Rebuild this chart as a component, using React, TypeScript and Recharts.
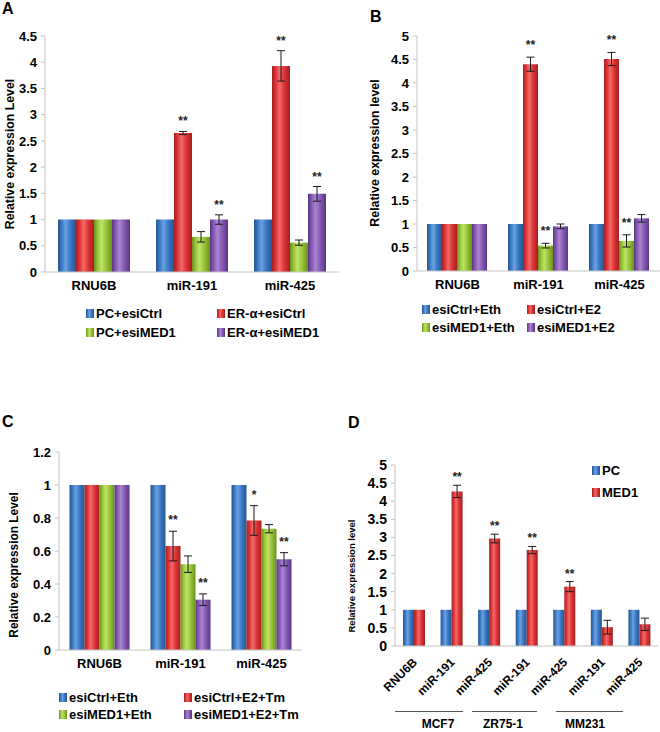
import * as React from "react";
import { BarChart, Bar, XAxis, YAxis, ErrorBar, LabelList } from "recharts";

const FONT = "'Liberation Sans', Arial, Helvetica, sans-serif";

// colour ramps: dark edge, body, highlight
const COLORS: Record<string, string[]> = {
  blue: ["#25558f", "#3a78c4", "#6aa2e0"],
  red: ["#a3201f", "#de3336", "#f26a68"],
  green: ["#6a9120", "#98c436", "#bde36a"],
  purple: ["#583581", "#8659b4", "#a985d0"],
};

// ---- Panel A ----
const catsA = ["RNU6B", "miR-191", "miR-425"];
const ticksA = [0, 0.5, 1, 1.5, 2, 2.5, 3, 3.5, 4, 4.5];
const pcCtrlA = [1, 1, 1];
const pcCtrlErrA = [0, 0, 0];
const erCtrlA = [1, 2.65, 3.93];
const erCtrlErrA = [0, 0.03, 0.29];
const pcMedA = [1, 0.67, 0.56];
const pcMedErrA = [0, 0.1, 0.05];
const erMedA = [1, 1.0, 1.49];
const erMedErrA = [0, 0.09, 0.14];
const erCtrlStarsA = ["", "**", "**"];
const erMedStarsA = ["", "**", "**"];

// ---- Panel B ----
const catsB = ["RNU6B", "miR-191", "miR-425"];
const ticksB = [0, 0.5, 1, 1.5, 2, 2.5, 3, 3.5, 4, 4.5, 5];
const ctrlEthB = [1, 1, 1];
const ctrlEthErrB = [0, 0, 0];
const ctrlE2B = [1, 4.4, 4.51];
const ctrlE2ErrB = [0, 0.15, 0.14];
const medEthB = [1, 0.54, 0.64];
const medEthErrB = [0, 0.05, 0.13];
const medE2B = [1, 0.95, 1.12];
const medE2ErrB = [0, 0.05, 0.08];
const ctrlE2StarsB = ["", "**", "**"];
const medEthStarsB = ["", "**", "**"];

// ---- Panel C ----
const catsC = ["RNU6B", "miR-191", "miR-425"];
const ticksC = [0, 0.2, 0.4, 0.6, 0.8, 1, 1.2];
const ctrlEthC = [1, 1, 1];
const ctrlEthErrC = [0, 0, 0];
const ctrlTmC = [1, 0.63, 0.785];
const ctrlTmErrC = [0, 0.09, 0.09];
const medEthC = [1, 0.52, 0.735];
const medEthErrC = [0, 0.05, 0.025];
const medTmC = [1, 0.305, 0.55];
const medTmErrC = [0, 0.035, 0.04];
const ctrlTmStarsC = ["", "**", "*"];
const medTmStarsC = ["", "**", "**"];

// ---- Panel D ----
const catsD = ["RNU6B", "miR-191", "miR-425", "miR-191", "miR-425", "miR-191", "miR-425"];
const ticksD = [0, 0.5, 1, 1.5, 2, 2.5, 3, 3.5, 4, 4.5, 5];
const pcD = [1, 1, 1, 1, 1, 1, 1];
const pcErrD = [0, 0, 0, 0, 0, 0, 0];
const med1D = [1, 4.27, 2.97, 2.65, 1.64, 0.52, 0.6];
const med1ErrD = [0, 0.17, 0.12, 0.1, 0.14, 0.19, 0.17];
const med1StarsD = ["", "**", "**", "**", "**", "", ""];
const cellLinesD = ["MCF7", "ZR75-1", "MM231"];

const none = (n: number) => Array(n).fill("");

type Series = { name: string; values: number[]; errs: number[]; stars: string[]; color: string };

const seriesA: Series[] = [
  { name: "PC+esiCtrl", values: pcCtrlA, errs: pcCtrlErrA, stars: none(3), color: "blue" },
  { name: "ER-α+esiCtrl", values: erCtrlA, errs: erCtrlErrA, stars: erCtrlStarsA, color: "red" },
  { name: "PC+esiMED1", values: pcMedA, errs: pcMedErrA, stars: none(3), color: "green" },
  { name: "ER-α+esiMED1", values: erMedA, errs: erMedErrA, stars: erMedStarsA, color: "purple" },
];
const seriesB: Series[] = [
  { name: "esiCtrl+Eth", values: ctrlEthB, errs: ctrlEthErrB, stars: none(3), color: "blue" },
  { name: "esiCtrl+E2", values: ctrlE2B, errs: ctrlE2ErrB, stars: ctrlE2StarsB, color: "red" },
  { name: "esiMED1+Eth", values: medEthB, errs: medEthErrB, stars: medEthStarsB, color: "green" },
  { name: "esiMED1+E2", values: medE2B, errs: medE2ErrB, stars: none(3), color: "purple" },
];
const seriesC: Series[] = [
  { name: "esiCtrl+Eth", values: ctrlEthC, errs: ctrlEthErrC, stars: none(3), color: "blue" },
  { name: "esiCtrl+E2+Tm", values: ctrlTmC, errs: ctrlTmErrC, stars: ctrlTmStarsC, color: "red" },
  { name: "esiMED1+Eth", values: medEthC, errs: medEthErrC, stars: none(3), color: "green" },
  { name: "esiMED1+E2+Tm", values: medTmC, errs: medTmErrC, stars: medTmStarsC, color: "purple" },
];
const seriesD: Series[] = [
  { name: "PC", values: pcD, errs: pcErrD, stars: none(7), color: "blue" },
  { name: "MED1", values: med1D, errs: med1ErrD, stars: med1StarsD, color: "red" },
];

const Gradient = ({ id, color }: { id: string; color: string }) => {
  const [dark, mid, light] = COLORS[color];
  return (
    <linearGradient id={id} x1="0" y1="0" x2="1" y2="0">
      <stop offset="0%" stopColor={dark} />
      <stop offset="20%" stopColor={mid} />
      <stop offset="42%" stopColor={light} />
      <stop offset="68%" stopColor={mid} />
      <stop offset="100%" stopColor={dark} />
    </linearGradient>
  );
};

// "**" marks sit a little above the error bar cap
const starContent = (s: Series, lift: number) => (p: any) => {
  const i = p.index;
  const txt = s.stars[i];
  if (!txt || p.height == null) return null;
  const perUnit = p.height / s.values[i];
  const top = p.y - s.errs[i] * perUnit;
  return (
    <text
      x={p.x + p.width / 2}
      y={top - lift}
      textAnchor="middle"
      fontSize={12}
      fontWeight="bold"
      fontFamily={FONT}
      fill="#222"
    >
      {txt}
    </text>
  );
};

const RotTick = (p: any) => (
  <g transform={`translate(${p.x + 4},${p.y + 8})`}>
    <text
      x={0}
      y={0}
      textAnchor="end"
      transform="rotate(-45)"
      fontSize={12}
      fontWeight="bold"
      fontFamily={FONT}
      fill="#000"
    >
      {p.payload.value}
    </text>
  </g>
);

interface PanelProps {
  id: string;
  cats: string[];
  series: Series[];
  ticks: number[];
  width: number;
  height: number;
  margin: { top: number; right: number; left: number; bottom: number };
  yWidth: number;
  catGap: number;
  starLift: number;
  xHeight: number;
  rotate?: boolean;
  yFont?: number;
}

function Panel(props: PanelProps) {
  const { id, cats, series, ticks } = props;
  const rows = cats.map((c, i) => {
    const r: any = { cat: c };
    series.forEach((s, k) => {
      r["v" + k] = s.values[i];
      r["e" + k] = s.errs[i];
    });
    return r;
  });
  const domainMax = ticks[ticks.length - 1];
  return (
    <BarChart
      width={props.width}
      height={props.height}
      data={rows}
      margin={props.margin}
      barCategoryGap={props.catGap}
      barGap={0}
    >
      <defs>
        {series.map((s, k) => (
          <Gradient key={k} id={`${id}-g${k}`} color={s.color} />
        ))}
      </defs>
      <XAxis
        dataKey="cat"
        height={props.xHeight}
        axisLine={{ stroke: "#c4c4c4" }}
        tickLine={false}
        tickSize={0}
        tickMargin={9}
        interval={0}
        tick={
          props.rotate
            ? RotTick
            : { fontSize: 13, fontWeight: "bold", fontFamily: FONT, fill: "#000" }
        }
      />
      <YAxis
        width={props.yWidth}
        domain={[0, domainMax]}
        ticks={ticks}
        interval={0}
        axisLine={{ stroke: "#c4c4c4" }}
        tickLine={{ stroke: "#c4c4c4" }}
        tickSize={4}
        tickMargin={4}
        tick={{ fontSize: props.yFont ?? 13, fontWeight: "bold", fontFamily: FONT, fill: "#000" }}
      />
      {series.map((s, k) => (
        <Bar key={k} dataKey={"v" + k} name={s.name} fill={`url(#${id}-g${k})`} isAnimationActive={false}>
          <ErrorBar dataKey={"e" + k} width={4} stroke="#1a1a1a" strokeWidth={1} direction="y" />
          <LabelList dataKey={"v" + k} content={starContent(s, props.starLift)} />
        </Bar>
      ))}
    </BarChart>
  );
}

const Legend2 = ({
  id,
  series,
  left,
  top,
  colW,
  rowH,
  cols,
}: {
  id: string;
  series: Series[];
  left: number;
  top: number;
  colW: number;
  rowH: number;
  cols: number;
}) => (
  <div
    style={{
      position: "absolute",
      left,
      top,
      display: "grid",
      gridTemplateColumns: `repeat(${cols}, ${colW}px)`,
      gridAutoRows: `${rowH}px`,
      fontFamily: FONT,
      fontSize: 13,
      fontWeight: "bold",
      color: "#000",
    }}
  >
    {series.map((s, k) => (
      <div key={k} style={{ display: "flex", alignItems: "center", whiteSpace: "nowrap" }}>
        <svg width={8} height={9} style={{ marginRight: 2 }}>
          <defs>
            <Gradient id={`${id}-lg${k}`} color={s.color} />
          </defs>
          <rect x={0} y={0} width={8} height={9} fill={`url(#${id}-lg${k})`} />
        </svg>
        <span>{s.name}</span>
      </div>
    ))}
  </div>
);

const Letter = ({ t, left, top }: { t: string; left: number; top: number }) => (
  <div
    style={{ position: "absolute", left, top, fontFamily: FONT, fontWeight: "bold", fontSize: 16, lineHeight: 1 }}
  >
    {t}
  </div>
);

const YTitle = ({ t, cx, cy, size }: { t: string; cx: number; cy: number; size: number }) => (
  <div
    style={{
      position: "absolute",
      left: cx,
      top: cy,
      transform: "translate(-50%, -50%) rotate(-90deg)",
      whiteSpace: "nowrap",
      fontFamily: FONT,
      fontWeight: "bold",
      fontSize: size,
      lineHeight: 1,
    }}
  >
    {t}
  </div>
);

const abs = (left: number, top: number): React.CSSProperties => ({ position: "absolute", left, top });

// bracket spans under panel D (annotation only)
const bracketSpans = [
  [395, 463],
  [472, 537],
  [556, 623],
];
const bracketCenters = [438, 503, 585];

export default function App() {
  return (
    <div style={{ position: "absolute", left: 0, top: 0, width: 660, height: 732, background: "#fff", overflow: "hidden" }}>
      {/* A */}
      <Letter t="A" left={2} top={1} />
      <YTitle t="Relative expression Level" cx={10} cy={154} size={12.3} />
      <div style={abs(0, 0)}>
        <Panel
          id="a"
          cats={catsA}
          series={seriesA}
          ticks={ticksA}
          width={345}
          height={310}
          margin={{ top: 36, right: 6, left: 0, bottom: 8 }}
          yWidth={45}
          catGap={13}
          starLift={6}
          xHeight={30}
        />
      </div>
      <Legend2 id="la" series={seriesA} left={86} top={304} colW={131} rowH={19} cols={2} />

      {/* B */}
      <Letter t="B" left={370} top={9} />
      <YTitle t="Relative expression level" cx={375} cy={153} size={12.4} />
      <div style={abs(372, 0)}>
        <Panel
          id="b"
          cats={catsB}
          series={seriesB}
          ticks={ticksB}
          width={288}
          height={310}
          margin={{ top: 36, right: 0, left: 0, bottom: 9 }}
          yWidth={45}
          catGap={10}
          starLift={8}
          xHeight={30}
        />
      </div>
      <Legend2 id="lb" series={seriesB} left={422} top={300} colW={105} rowH={18} cols={2} />

      {/* C */}
      <Letter t="C" left={2} top={414} />
      <YTitle t="Relative expression Level" cx={15} cy={565} size={11.9} />
      <div style={abs(0, 400)}>
        <Panel
          id="c"
          cats={catsC}
          series={seriesC}
          ticks={ticksC}
          width={308}
          height={288}
          margin={{ top: 52, right: 6, left: 0, bottom: 8 }}
          yWidth={59}
          catGap={10.5}
          starLift={7}
          xHeight={30}
        />
      </div>
      <Legend2 id="lc" series={seriesC} left={59} top={689} colW={125} rowH={17} cols={2} />

      {/* D */}
      <Letter t="D" left={348} top={415} />
      <YTitle t="Relative expression level" cx={352} cy={576} size={9.5} />
      <div style={abs(340, 400)}>
        <Panel
          id="d"
          cats={catsD}
          series={seriesD}
          ticks={ticksD}
          width={320}
          height={306}
          margin={{ top: 65, right: 2, left: 0, bottom: 0 }}
          yWidth={55}
          catGap={8}
          starLift={4}
          xHeight={60}
          rotate
          yFont={14}
        />
      </div>
      <Legend2 id="ld" series={seriesD} left={592} top={459} colW={60} rowH={22} cols={1} />
      {cellLinesD.map((c, i) => (
        <React.Fragment key={c}>
          <div
            style={{
              position: "absolute",
              left: bracketSpans[i][0],
              top: 711,
              width: bracketSpans[i][1] - bracketSpans[i][0],
              height: 1,
              background: "#555",
            }}
          />
          <div
            style={{
              position: "absolute",
              left: bracketCenters[i],
              top: 718,
              transform: "translateX(-50%)",
              fontFamily: FONT,
              fontWeight: "bold",
              fontSize: 12,
              lineHeight: 1,
              whiteSpace: "nowrap",
            }}
          >
            {c}
          </div>
        </React.Fragment>
      ))}
    </div>
  );
}
